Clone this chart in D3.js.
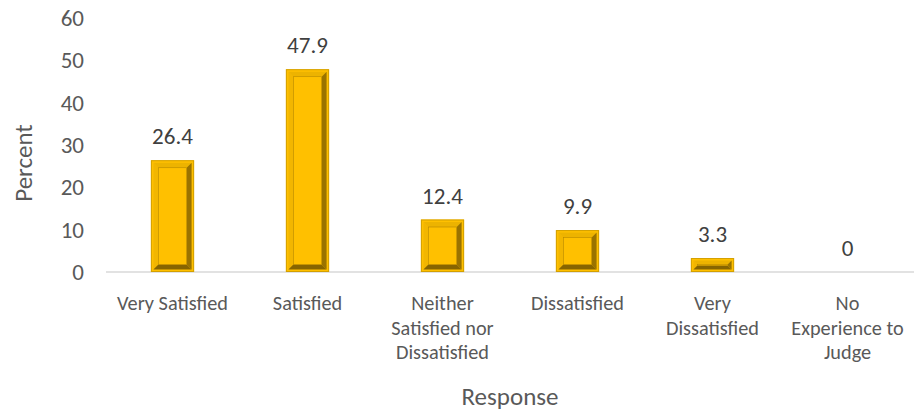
<!DOCTYPE html>
<html><head><meta charset="utf-8">
<script src="https://cdn.jsdelivr.net/npm/d3@7"></script>
<style>body{margin:0;background:#fff}svg{display:block}text{font-family:Carlito,Calibri,Lato,sans-serif;fill:#595959}</style>
</head><body><svg id="c" width="920" height="417"></svg>
<script>
const categories = ["Very Satisfied","Satisfied","Neither Satisfied nor Dissatisfied","Dissatisfied","Very Dissatisfied","No Experience to Judge"];
const categoryLines = [["Very Satisfied"],["Satisfied"],["Neither","Satisfied nor","Dissatisfied"],["Dissatisfied"],["Very","Dissatisfied"],["No","Experience to","Judge"]];
const values = [26.4,47.9,12.4,9.9,3.3,0];
const yTicks = [0,10,20,30,40,50,60];

const svg = d3.select("#c");
const x = d3.scaleBand().domain(categories).range([105,915]).paddingInner(0.68).paddingOuter(0.34);
const y = d3.scaleLinear().domain([0,60]).range([272,18]);

// y tick labels
svg.selectAll(".yt").data(yTicks).enter().append("text")
  .attr("x",84).attr("y",d=>y(d)).attr("dy","0.35em").attr("text-anchor","end")
  .style("font-size","23px").text(d=>d);

// axis line
svg.append("line").attr("x1",106).attr("x2",914).attr("y1",y(0)).attr("y2",y(0))
  .attr("stroke","#d9d9d9").attr("stroke-width",1.5);

// bars with bevel frame
const g = svg.selectAll(".bar").data(values).enter().append("g");
g.each(function(d,i){
  const sel = d3.select(this);
  const x0 = x(categories[i]), w = x.bandwidth();
  const y0 = y(d), y1 = y(0), h = y1 - y0;
  if (h <= 0) return;
  const x1 = x0 + w;
  const r = Math.min(2.5, h/2);
  const b = Math.min(5, Math.max(0,h/2 - r - 0.5));
  sel.append("rect").attr("x",x0).attr("y",y0).attr("width",w).attr("height",h).attr("fill","#FFC000");
  const ax0=x0+r, ay0=y0+r, ax1=x1-r, ay1=y1-r;
  sel.append("polygon").attr("points",[[ax0,ay0],[ax1,ay0],[ax1-b,ay0+b],[ax0+b,ay0+b]].join(" ")).attr("fill","#EDB300");
  sel.append("polygon").attr("points",[[ax0,ay0],[ax0+b,ay0+b],[ax0+b,ay1-b],[ax0,ay1]].join(" ")).attr("fill","#F2B600");
  sel.append("polygon").attr("points",[[ax1,ay0],[ax1,ay1],[ax1-b,ay1-b],[ax1-b,ay0+b]].join(" ")).attr("fill","#9A7300");
  sel.append("polygon").attr("points",[[ax0,ay1],[ax1,ay1],[ax1-b,ay1-b],[ax0+b,ay1-b]].join(" ")).attr("fill","#876500");
  sel.append("rect").attr("x",ax0+b).attr("y",ay0+b).attr("width",Math.max(0,ax1-ax0-2*b)).attr("height",Math.max(0,ay1-ay0-2*b)).attr("fill","#FFC000");
  sel.append("rect").attr("x",ax0+b).attr("y",ay0+b).attr("width",Math.max(0,ax1-ax0-2*b)).attr("height",Math.max(0,ay1-ay0-2*b)).attr("fill","none").attr("stroke","#B58800").attr("stroke-width",0.6);
  sel.append("rect").attr("x",x0+0.5).attr("y",y0+0.5).attr("width",w-1).attr("height",h-1).attr("fill","none").attr("stroke","#D4A000").attr("stroke-width",1);
});

// value labels
svg.selectAll(".vl").data(values).enter().append("text")
  .attr("x",(d,i)=>x(categories[i])+x.bandwidth()/2).attr("y",(d)=>y(d)-16)
  .attr("text-anchor","middle").style("font-size","23px").style("fill","#404040").text(d=>d);

// category labels
categoryLines.forEach((lines,i)=>{
  const cx = x(categories[i])+x.bandwidth()/2;
  lines.forEach((l,j)=>svg.append("text").attr("x",cx).attr("y",310+j*24.5)
    .attr("text-anchor","middle").style("font-size","20.3px").text(l));
});

// axis titles
svg.append("text").attr("x",510).attr("y",405).attr("text-anchor","middle").style("font-size","25px").text("Response");
svg.append("text").attr("transform","translate(32,163) rotate(-90)").attr("text-anchor","middle").style("font-size","25px").text("Percent");
</script></body></html>
